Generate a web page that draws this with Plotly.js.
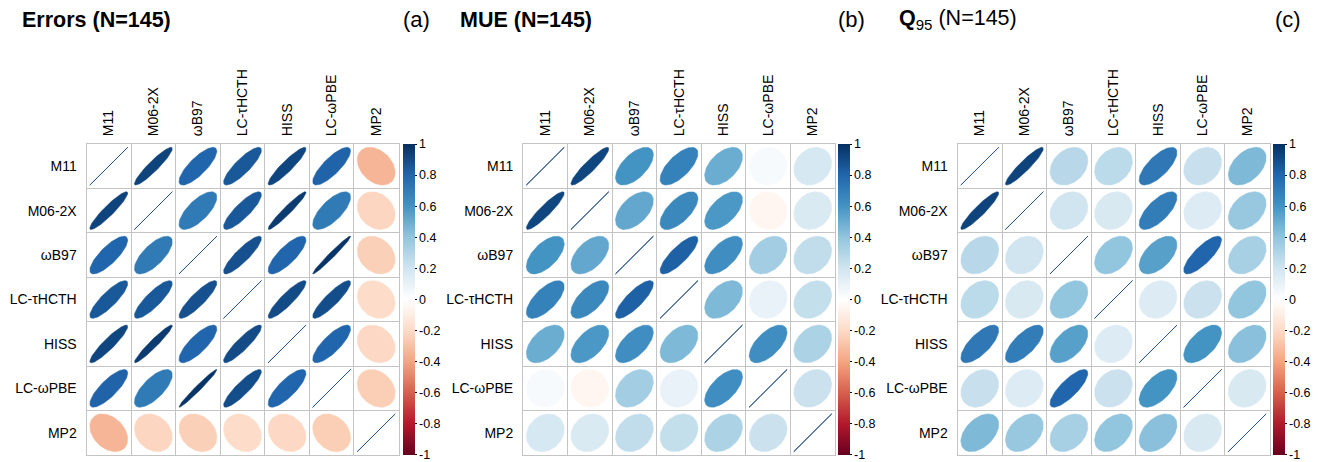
<!DOCTYPE html>
<html><head><meta charset="utf-8">
<script src="https://cdn.plot.ly/plotly-3.0.1.min.js"></script>
<style>html,body{margin:0;padding:0;background:#fff}#chart{width:1318px;height:462px}</style>
</head><body><div id="chart"></div>
<script>
const methods = ['M11','M06-2X','ωB97','LC-τHCTH','HISS','LC-ωPBE','MP2'];
const cbTickVals = [0.9999,0.8,0.6,0.4,0.2,0,-0.2,-0.4,-0.6,-0.8,-0.9999];
const cbTickText = ['1','0.8','0.6','0.4','0.2','0','-0.2','-0.4','-0.6','-0.8','-1'];

const errorsCorr = [
  [ 1.00,  0.93,  0.80,  0.85,  0.92,  0.81, -0.34],
  [ 0.93,  1.00,  0.71,  0.85,  0.96,  0.71, -0.22],
  [ 0.80,  0.71,  1.00,  0.88,  0.80,  0.98, -0.24],
  [ 0.85,  0.85,  0.88,  1.00,  0.90,  0.89, -0.19],
  [ 0.92,  0.96,  0.80,  0.90,  1.00,  0.80, -0.21],
  [ 0.81,  0.71,  0.98,  0.89,  0.80,  1.00, -0.25],
  [-0.34, -0.22, -0.24, -0.19, -0.21, -0.25,  1.00]
];
const mueCorr = [
  [1.00, 0.92, 0.60, 0.68, 0.50, 0.04, 0.18],
  [0.92, 1.00, 0.52, 0.65, 0.58,-0.05, 0.16],
  [0.60, 0.52, 1.00, 0.82, 0.62, 0.35, 0.25],
  [0.68, 0.65, 0.82, 1.00, 0.45, 0.10, 0.24],
  [0.50, 0.58, 0.62, 0.45, 1.00, 0.62, 0.32],
  [0.04,-0.05, 0.35, 0.10, 0.62, 1.00, 0.22],
  [0.18, 0.16, 0.25, 0.24, 0.32, 0.22, 1.00]
];
const q95Corr = [
  [1.00, 0.93, 0.28, 0.27, 0.72, 0.23, 0.45],
  [0.93, 1.00, 0.20, 0.17, 0.70, 0.15, 0.38],
  [0.28, 0.20, 1.00, 0.40, 0.55, 0.80, 0.33],
  [0.27, 0.17, 0.40, 1.00, 0.15, 0.22, 0.40],
  [0.72, 0.70, 0.55, 0.15, 1.00, 0.60, 0.42],
  [0.23, 0.15, 0.80, 0.22, 0.60, 1.00, 0.17],
  [0.45, 0.38, 0.33, 0.40, 0.42, 0.17, 1.00]
];

const rdbu = ['#67001F','#B2182B','#D6604D','#F4A582','#FDDBC7','#FFFFFF','#D1E5F0','#92C5DE','#4393C3','#2166AC','#053061'];
const colorscale = rdbu.map((c,i)=>[i/(rdbu.length-1), c]);
function hex2rgb(h){return [parseInt(h.slice(1,3),16),parseInt(h.slice(3,5),16),parseInt(h.slice(5,7),16)];}
function colorFor(r){
  const t = (r+1)/2*(rdbu.length-1);
  const i = Math.min(Math.floor(t), rdbu.length-2);
  const f = t - i;
  const a = hex2rgb(rdbu[i]), b = hex2rgb(rdbu[i+1]);
  const c = a.map((v,k)=>Math.round(v+(b[k]-v)*f));
  return 'rgb('+c.join(',')+')';
}

const panels = [
  {mat: errorsCorr, x0: 86.5, x1: 398.5, cb: 403},
  {mat: mueCorr,    x0: 523,  x1: 835,   cb: 838},
  {mat: q95Corr,    x0: 957.5,x1: 1269.5,cb: 1273}
];
const W = 1318, H = 462, yTop = 144, yBot = 455;
const gridCol = '#c4c4c4';
const fontFam = 'Liberation Sans, Arial, sans-serif';

const traces = [];
const layout = {
  width: W, height: H, autosize: false,
  margin: {l:0, r:0, t:0, b:0},
  paper_bgcolor: '#fff', plot_bgcolor: '#fff',
  showlegend: false,
  font: {family: fontFam, color: '#000'},
  annotations: []
};

const nK = 80;
panels.forEach((p, pi) => {
  const xa = 'x' + (pi ? pi+1 : ''), ya = 'y' + (pi ? pi+1 : '');
  const n = methods.length;
  for (let i = 0; i < n; i++) {
    for (let j = 0; j < n; j++) {
      const r = p.mat[i][j];
      const h = Math.acos(Math.max(-1, Math.min(1, r))) / 2;
      const xs = [], ys = [];
      for (let k = 0; k <= nK; k++) {
        const th = 2*Math.PI*k/nK;
        xs.push((j+1) + 0.85*Math.cos(th + h)/2);
        ys.push((i+1) - 0.85*Math.cos(th - h)/2);
      }
      const col = colorFor(r);
      traces.push({
        type: 'scatter', mode: 'lines', x: xs, y: ys,
        xaxis: xa, yaxis: ya,
        fill: 'toself', fillcolor: col,
        line: {color: (i===j ? '#2b5689' : col), width: (i===j ? 1 : 0.5)},
        hoverinfo: 'skip'
      });
    }
  }
  const cx = [], cy = [], cv = [];
  for (let i = 0; i < n; i++) for (let j = 0; j < n; j++) { cx.push(j+1); cy.push(i+1); cv.push(p.mat[i][j]); }
  traces.push({
    type: 'scatter', mode: 'markers', x: cx, y: cy, xaxis: xa, yaxis: ya,
    marker: {color: cv, cmin: -1, cmax: 1, colorscale: colorscale, opacity: 0, size: 30,
      showscale: true,
      colorbar: {
        x: p.cb / W, xanchor: 'left', xpad: 0, ypad: 0,
        y: 1 - (yTop + yBot) / 2 / H, yanchor: 'middle',
        len: yBot - yTop, lenmode: 'pixels',
        thickness: 12, thicknessmode: 'pixels',
        outlinewidth: 0,
        tickmode: 'array', tickvals: cbTickVals, ticktext: cbTickText,
        ticks: 'outside', ticklen: 2, tickcolor: '#000',
        ticklabeloverflow: 'allow',
        tickfont: {size: 12.5, family: fontFam, color: '#000'}
      }
    },
    text: cv.map(v => v.toFixed(2)), hoverinfo: 'text'
  });
  const minorVals = [1.5,2.5,3.5,4.5,5.5,6.5];
  layout['xaxis' + (pi ? pi+1 : '')] = {
    domain: [p.x0 / W, p.x1 / W], anchor: ya,
    range: [0.5, 7.5], side: 'top', fixedrange: true,
    tickmode: 'array', tickvals: [1,2,3,4,5,6,7], ticktext: methods,
    tickangle: -90, ticks: '', ticklabelstandoff: 4,
    tickfont: {size: 14, family: fontFam, color: '#000'},
    showgrid: false, zeroline: false,
    showline: true, mirror: true, linecolor: gridCol, linewidth: 1,
    minor: {tickmode: 'array', tickvals: minorVals, showgrid: true, gridcolor: gridCol, gridwidth: 1, ticks: ''}
  };
  layout['yaxis' + (pi ? pi+1 : '')] = {
    domain: [1 - yBot / H, 1 - yTop / H], anchor: xa,
    range: [7.5, 0.5], fixedrange: true,
    tickmode: 'array', tickvals: [1,2,3,4,5,6,7], ticktext: methods,
    ticks: '', ticklabelstandoff: 6,
    tickfont: {size: 14, family: fontFam, color: '#000'},
    showgrid: false, zeroline: false,
    showline: true, mirror: true, linecolor: gridCol, linewidth: 1,
    minor: {tickmode: 'array', tickvals: minorVals, showgrid: true, gridcolor: gridCol, gridwidth: 1, ticks: ''}
  };
});

const titles = [
  {text: '<b>Errors (N=145)</b>', x: 20, tag: '(a)', tx: 432},
  {text: '<b>MUE (N=145)</b>', x: 458, tag: '(b)', tx: 867},
  {text: '<b>Q</b><sub>95</sub> (N=145)', x: 897, tag: '(c)', tx: 1303}
];
titles.forEach(t => {
  layout.annotations.push({
    xref: 'paper', yref: 'paper', x: t.x / W, y: 1 - 20 / H,
    xanchor: 'left', yanchor: 'middle', showarrow: false,
    text: t.text, font: {size: 21.5, family: fontFam, color: '#000'}
  });
  layout.annotations.push({
    xref: 'paper', yref: 'paper', x: t.tx / W, y: 1 - 20 / H,
    xanchor: 'right', yanchor: 'middle', showarrow: false,
    text: t.tag, font: {size: 22, family: fontFam, color: '#000'}
  });
});

Plotly.newPlot('chart', traces, layout, {displayModeBar: false});
</script>
</body></html>
